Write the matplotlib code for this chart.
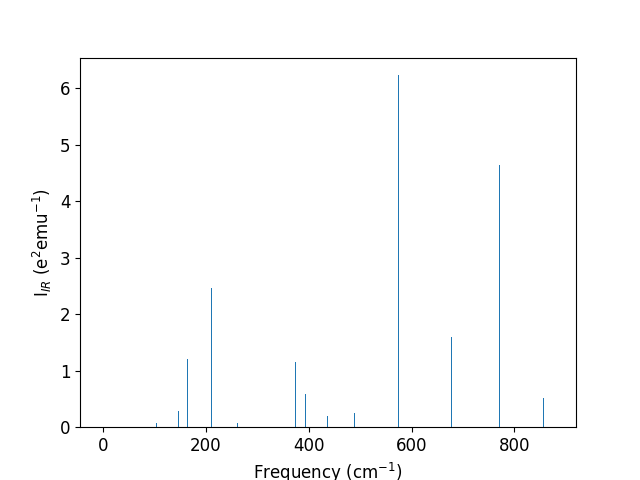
#!/usr/bin/env python3
# IR spectrum stick plot

import matplotlib
matplotlib.use("Agg")
import matplotlib.pyplot as plt

# frequencies (cm^-1) and IR intensities
freq = [103.6, 145.7, 163.6, 210.0, 260.6, 374.4, 393.5, 435.9, 488.5,
        574.2, 677.4, 771.1, 856.6]
intensity = [0.07, 0.28, 1.20, 2.46, 0.07, 1.15, 0.58, 0.19, 0.26,
             6.23, 1.59, 4.64, 0.51]


def main():
    fig, ax = plt.subplots(figsize=(6.4, 4.8), dpi=100)
    ax.bar(freq, intensity, width=2.0, color="C0")

    ax.set_xlim(-45, 920)
    ax.set_xlabel("Frequency (cm$^{-1}$)", fontsize=12)
    ax.set_ylabel("I$_{IR}$ (e$^2$emu$^{-1}$)", fontsize=12)
    ax.tick_params(labelsize=12)

    fig.savefig("out.png", dpi=100)
    plt.close(fig)


if __name__ == "__main__":
    main()
